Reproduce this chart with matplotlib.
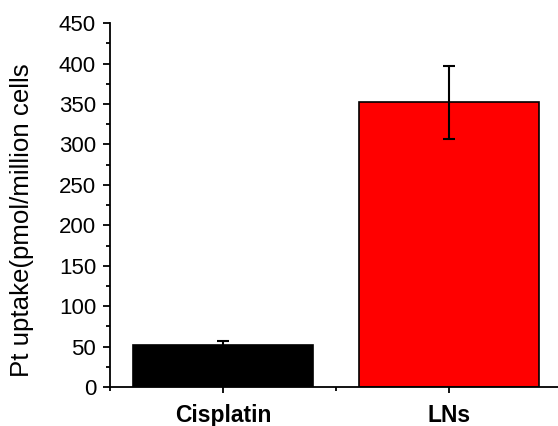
import matplotlib.pyplot as plt
from matplotlib.ticker import MultipleLocator

plt.rcParams['font.family'] = ['Liberation Sans', 'DejaVu Sans']

categories = ['Cisplatin', 'LNs']
uptake = [52, 352]
uptake_err = [5, 45]
bar_colors = ['#000000', '#ff0000']

fig = plt.figure(figsize=(5.58, 4.26), dpi=100)
ax = fig.add_axes([0.197, 0.0915, 0.81, 0.854])

x = [1, 2]
ax.bar(x, uptake, width=0.8, color=bar_colors, edgecolor='black', linewidth=1.2,
       yerr=uptake_err, capsize=4, error_kw=dict(ecolor='black', elinewidth=1.5, capthick=1.5))

ax.set_xlim(0.5, 2.5)
ax.set_ylim(0, 450)
ax.set_xticks(x)
ax.set_xticklabels(categories, fontsize=16.5, fontweight='bold')
ax.xaxis.set_minor_locator(MultipleLocator(0.5))
ax.yaxis.set_major_locator(MultipleLocator(50))
ax.yaxis.set_minor_locator(MultipleLocator(25))
ax.tick_params(axis='y', which='major', labelsize=16, length=5, width=1.3, direction='out', pad=5)
ax.tick_params(axis='y', which='minor', length=3, width=1.3, direction='out')
ax.tick_params(axis='x', which='major', length=4, width=1.3, direction='out', pad=8)
ax.tick_params(axis='x', which='minor', length=3, width=1.3, direction='out')

for side in ['top', 'right']:
    ax.spines[side].set_visible(False)
for side in ['left', 'bottom']:
    ax.spines[side].set_linewidth(1.3)

ax.set_ylabel('Pt uptake(pmol/million cells', fontsize=18.6)
ax.yaxis.set_label_coords(-0.168, 0.459)

fig.savefig('out.png', dpi=100)
